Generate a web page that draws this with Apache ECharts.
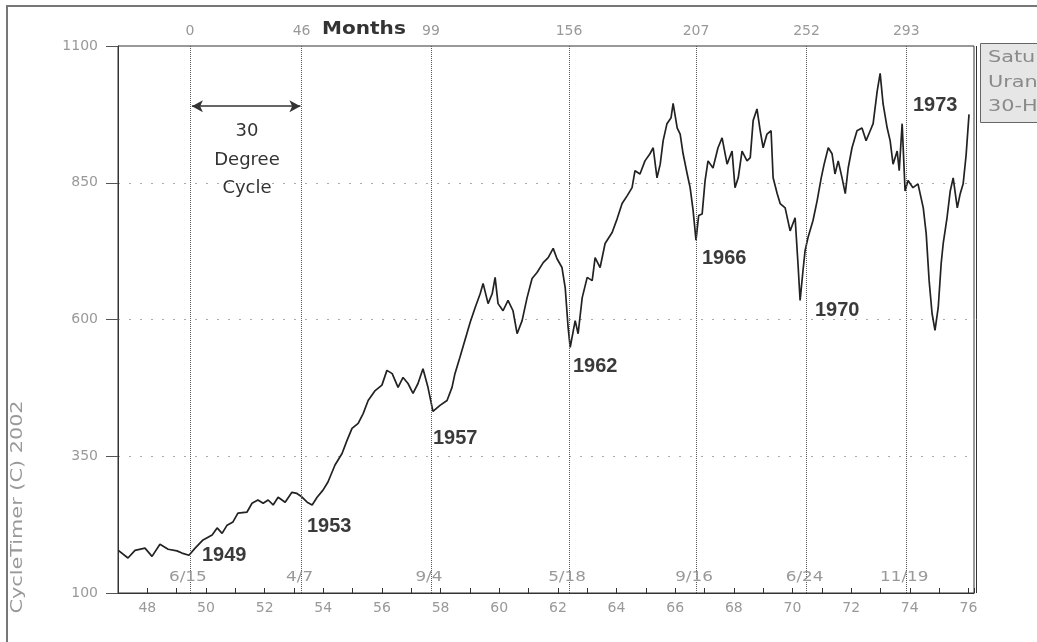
<!DOCTYPE html>
<html><head><meta charset="utf-8">
<script src="https://cdn.jsdelivr.net/npm/echarts/dist/echarts.min.js"></script>
<style>html,body{margin:0;padding:0;background:#fff}#c{width:1037px;height:642px}</style>
</head><body><div id="c"></div>
<script>
// Dow-like index (x = year, two-digit, decimal)
const years = [47.01,47.34,47.58,47.92,48.16,48.43,48.71,49.01,49.18,49.42,49.63,49.90,50.21,50.38,50.55,50.72,50.92,51.09,51.40,51.57,51.77,51.95,52.12,52.29,52.46,52.70,52.93,53.10,53.24,53.45,53.62,53.79,53.99,54.16,54.40,54.64,54.81,54.98,55.19,55.36,55.53,55.77,56.00,56.17,56.35,56.55,56.72,56.89,57.06,57.23,57.40,57.57,57.74,57.98,58.22,58.39,58.49,58.66,58.83,59.01,59.18,59.35,59.45,59.62,59.76,59.86,59.96,60.13,60.30,60.47,60.61,60.78,60.95,61.12,61.29,61.50,61.67,61.84,61.97,62.14,62.25,62.35,62.42,62.59,62.69,62.83,63.00,63.17,63.27,63.44,63.61,63.85,64.02,64.19,64.36,64.53,64.63,64.80,64.97,65.14,65.25,65.38,65.49,65.59,65.72,65.86,65.93,66.07,66.17,66.27,66.41,66.51,66.61,66.71,66.80,66.92,67.02,67.12,67.29,67.46,67.60,67.77,67.94,68.04,68.15,68.28,68.45,68.56,68.66,68.79,68.90,69.00,69.13,69.27,69.34,69.48,69.58,69.75,69.92,70.09,70.19,70.26,70.36,70.43,70.53,70.70,70.84,70.98,71.08,71.22,71.35,71.45,71.56,71.69,71.80,71.90,72.03,72.20,72.37,72.51,72.65,72.75,72.89,72.99,73.09,73.23,73.33,73.43,73.57,73.64,73.74,73.84,73.94,74.11,74.28,74.46,74.56,74.66,74.76,74.86,74.97,75.07,75.14,75.27,75.38,75.48,75.62,75.72,75.82,75.92,76.02];
const dow = [178,164,178,182,167,189,180,177,173,169,182,197,206,219,209,224,230,246,248,264,270,264,270,261,275,266,284,282,277,266,261,275,288,303,334,355,379,401,410,428,452,470,480,507,501,476,494,483,465,483,510,476,432,443,452,476,501,531,562,595,622,647,666,629,647,677,629,616,635,616,574,598,640,675,686,704,713,730,711,695,658,585,549,598,574,640,677,671,713,695,739,759,784,812,826,841,872,866,890,903,914,859,884,927,958,969,995,950,939,903,866,841,800,745,790,793,854,890,877,914,932,884,908,841,859,908,890,896,964,985,945,914,939,945,859,830,812,804,762,786,700,635,690,726,750,781,817,859,884,914,903,866,890,859,830,877,914,945,950,927,945,958,1018,1050,994,950,927,884,908,872,958,835,854,841,848,804,757,671,611,580,622,702,739,786,835,859,804,830,848,900,975];

// Cycle lines: dates (decimal year), months since start, date text
const cycleDates = [49.45, 53.26, 57.67, 62.38, 66.71, 70.48, 73.88];
const cycleMonths = ['0', '46', '99', '156', '207', '252', '293'];
const cycleDateLabels = ['6/15', '4/7', '9/4', '5/18', '9/16', '6/24', '11/19'];
const cycleYears = ['1949', '1953', '1957', '1962', '1966', '1970', '1973'];
const legendLines = ['Saturn', 'Uranus', '30-H'];
const arrowSpan = [49.52, 53.22];
const arrowLevel = 990;

const chart = echarts.init(document.getElementById('c'), null, {renderer: 'canvas'});
const gray = '#999';
const font = 'DejaVu Sans';

const option = {
  animation: false,
  backgroundColor: '#fff',
  grid: {left: 118, top: 46, right: 63, bottom: 49, show: true, borderColor: '#333', borderWidth: 1, containLabel: false, outerBoundsMode: 'none'},
  xAxis: {
    type: 'value', min: 47, max: 76.19, interval: 1,
    axisLine: {lineStyle: {color: '#333', width: 1}},
    axisTick: {inside: true, length: 5, lineStyle: {color: '#333'}},
    axisLabel: {
      color: gray, fontFamily: font, fontSize: 14, margin: 8,
      formatter: v => (Math.abs(v - Math.round(v)) < 1e-6 && Math.round(v) % 2 === 0) ? String(Math.round(v)) : ''
    },
    splitLine: {show: false}
  },
  yAxis: {
    type: 'value', min: 100, max: 1100, interval: 250,
    axisLine: {show: true, lineStyle: {color: '#333'}},
    axisTick: {show: true, length: 12, lineStyle: {color: '#555'}},
    axisLabel: {color: gray, fontFamily: font, fontSize: 14, margin: 20, formatter: v => String(v)},
    splitLine: {show: true, showMinLine: false, showMaxLine: false, lineStyle: {color: '#aaa', type: [2, 9], width: 1}}
  },
  series: [
    {
      type: 'line', symbol: 'none', z: 3,
      data: years.map((y, i) => [y, dow[i]]),
      lineStyle: {color: '#222', width: 1.7},
      markLine: {
        silent: true, symbol: ['none', 'none'], animation: false,
        lineStyle: {type: 'dotted', color: '#555', width: 1},
        label: {position: 'end', color: gray, fontFamily: font, fontSize: 14, distance: 8},
        data: cycleDates.map((d, i) => ({xAxis: d, label: {formatter: cycleMonths[i]}}))
      }
    },
    {
      type: 'line', data: [], symbol: 'none',
      markLine: {
        silent: true, animation: false, symbol: ['arrow', 'arrow'], symbolSize: [9, 11],
        lineStyle: {type: 'solid', color: '#333', width: 1.5},
        label: {show: false},
        data: [[{coord: [arrowSpan[0], arrowLevel]}, {coord: [arrowSpan[1], arrowLevel]}]]
      }
    }
  ]
};
chart.setOption(option);

function txt(x, y, text, f, fill, align, extra) {
  return Object.assign({
    type: 'text', x: x, y: y, silent: true, z: 10,
    style: {text: text, font: f, fill: fill, align: align || 'left', verticalAlign: 'middle', textAlign: align || 'left', textVerticalAlign: 'middle'}
  }, extra || {});
}

const yearPix = [[202, 555], [307, 526], [433, 438], [573, 366], [702, 258], [815, 310], [913, 105]];
const g = [];
// outer frame
g.push({type: 'rect', silent: true, z: 10, shape: {x: 7, y: 6, width: 1100, height: 700}, style: {fill: 'none', stroke: '#777', lineWidth: 2}});
// right double border
g.push({type: 'line', silent: true, z: 10, shape: {x1: 976.5, y1: 46, x2: 976.5, y2: 593}, style: {stroke: '#333', lineWidth: 1}});
// legend box
g.push({type: 'rect', silent: true, z: 10, shape: {x: 980.5, y: 43.5, width: 80, height: 79}, style: {fill: '#e6e6e6', stroke: '#666', lineWidth: 1}});
legendLines.forEach((t, i) => g.push(txt(988, 58 + i * 24.5, t, '16px ' + font, '#8a8a8a', 'left', {scaleX: 1.3})));
// top "Months"
g.push(txt(322, 30, 'Months', 'bold 17px ' + font, '#333', 'left', {scaleX: 1.18}));
// y axis name
g.push(txt(18, 507, 'CycleTimer (C) 2002', '16px ' + font, gray, 'center', {rotation: Math.PI / 2, scaleX: 1.3}));
// 30 Degree Cycle
g.push(txt(247, 131, '30', '18px ' + font, '#333', 'center'));
g.push(txt(247, 160, 'Degree', '18px ' + font, '#333', 'center'));
g.push(txt(247, 188, 'Cycle', '18px ' + font, '#333', 'center'));
// year annotations
cycleYears.forEach((t, i) => g.push(txt(yearPix[i][0], yearPix[i][1], t, 'bold 20px Liberation Sans', '#3a3a3a', 'left')));
// date labels under each line
cycleDates.forEach((d, i) => {
  const p = chart.convertToPixel({gridIndex: 0}, [d, 100]);
  g.push(txt(p[0] - 2, 577, cycleDateLabels[i], '14px ' + font, gray, 'center', {scaleX: 1.2}));
});
chart.setOption({graphic: {elements: g}});
</script>
</body></html>
